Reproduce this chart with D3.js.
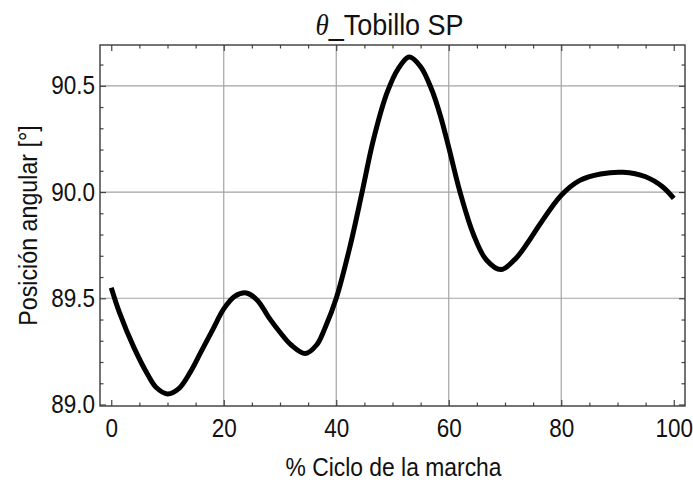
<!DOCTYPE html>
<html>
<head>
<meta charset="utf-8">
<script src="https://cdn.jsdelivr.net/npm/d3@7"></script>
<style>
  html, body { margin: 0; padding: 0; background: #fff; }
  svg { display: block; }
  text { font-family: "Liberation Sans", Arial, sans-serif; fill: #111; }
</style>
</head>
<body>
<svg id="chart" width="693" height="485"></svg>
<script>
// Ankle angle over the gait cycle (percent of cycle vs. degrees)
const cyclePct = [0, 1.5, 4, 6.5, 8, 10, 12, 14, 16, 18, 20, 22, 24, 26, 28, 30, 32, 34.5, 36.5, 38, 40,
  42.5, 44.6, 46.6, 49, 51, 53, 55, 57, 58.5, 60, 62, 64.4, 66.7, 69.3, 72, 74, 76, 80, 83.3, 87, 91, 95, 98, 100];
const angleDeg = [89.55, 89.43, 89.27, 89.14, 89.08, 89.05, 89.075, 89.15, 89.25, 89.35, 89.45, 89.51, 89.525, 89.49,
  89.41, 89.34, 89.28, 89.24, 89.28, 89.36, 89.50, 89.75, 90.00, 90.245, 90.465, 90.58, 90.635, 90.59, 90.48,
  90.36, 90.21, 90.00, 89.80, 89.68, 89.635, 89.69, 89.76, 89.84, 89.985, 90.055, 90.085, 90.093, 90.072, 90.025, 89.97];

const xMajor = [0, 20, 40, 60, 80, 100];
const yMajor = [89.0, 89.5, 90.0, 90.5];
const xGrid = [20, 40, 60, 80];
const yGrid = [89.5, 90.0, 90.5];
const xMinor = [5, 10, 15, 25, 30, 35, 45, 50, 55, 65, 70, 75, 85, 90, 95];
const yMinor = [89.1, 89.2, 89.3, 89.4, 89.6, 89.7, 89.8, 89.9, 90.1, 90.2, 90.3, 90.4, 90.6];

const titleSymbol = "θ";
const titleText = "_Tobillo SP";
const xTitle = "% Ciclo de la marcha";
const yTitle = "Posición angular [°]";

const plotL = 100, plotR = 685, plotT = 45, plotB = 406;
const svg = d3.select("#chart");
svg.append("rect").attr("width", 693).attr("height", 485).attr("fill", "#fff");

const x = d3.scaleLinear().domain([-2, 102]).range([plotL, plotR]);
const y = d3.scaleLinear().domain([88.993, 90.692]).range([plotB, plotT]);

// grid
const grid = svg.append("g").attr("stroke", "#a3a3a3").attr("stroke-width", 1.2);
grid.selectAll("line.gx").data(xGrid).join("line").attr("class", "gx")
  .attr("x1", d => x(d)).attr("x2", d => x(d)).attr("y1", plotT).attr("y2", plotB);
grid.selectAll("line.gy").data(yGrid).join("line").attr("class", "gy")
  .attr("y1", d => y(d)).attr("y2", d => y(d)).attr("x1", plotL).attr("x2", plotR);

// ticks on all four sides, pointing inward
const tickColor = "#444";
const fmtY = d3.format(".1f");
function styleAxis(g) {
  g.select(".domain").remove();
  g.selectAll(".tick line").attr("stroke", tickColor).attr("stroke-width", 1.2);
  g.selectAll("text").attr("font-size", 25).attr("fill", "#111")
    .attr("font-family", "'Liberation Sans', Arial, sans-serif")
    .attr("transform", "scale(0.9,1)");
}
svg.append("g").attr("transform", `translate(0,${plotB})`)
  .call(d3.axisBottom(x).tickValues(xMajor).tickSize(-6).tickPadding(13).tickFormat(d3.format("d")))
  .call(styleAxis);
svg.append("g").attr("transform", `translate(${plotL},0)`)
  .call(d3.axisLeft(y).tickValues(yMajor).tickSize(-6).tickPadding(5.5).tickFormat(fmtY))
  .call(styleAxis);
svg.append("g").attr("transform", `translate(0,${plotT})`)
  .call(d3.axisTop(x).tickValues(xMajor).tickSize(-6).tickFormat(""))
  .call(styleAxis);
svg.append("g").attr("transform", `translate(${plotR},0)`)
  .call(d3.axisRight(y).tickValues(yMajor).tickSize(-6).tickFormat(""))
  .call(styleAxis);
// minor ticks
svg.append("g").attr("transform", `translate(0,${plotB})`)
  .call(d3.axisBottom(x).tickValues(xMinor).tickSize(-3.5).tickFormat("")).call(styleAxis);
svg.append("g").attr("transform", `translate(0,${plotT})`)
  .call(d3.axisTop(x).tickValues(xMinor).tickSize(-3.5).tickFormat("")).call(styleAxis);
svg.append("g").attr("transform", `translate(${plotL},0)`)
  .call(d3.axisLeft(y).tickValues(yMinor).tickSize(-3.5).tickFormat("")).call(styleAxis);
svg.append("g").attr("transform", `translate(${plotR},0)`)
  .call(d3.axisRight(y).tickValues(yMinor).tickSize(-3.5).tickFormat("")).call(styleAxis);

// frame
svg.append("rect").attr("x", plotL).attr("y", plotT)
  .attr("width", plotR - plotL).attr("height", plotB - plotT)
  .attr("fill", "none").attr("stroke", "#3a3a3a").attr("stroke-width", 1.4);

// curve
const pts = cyclePct.map((c, i) => [c, angleDeg[i]]);
const line = d3.line().x(d => x(d[0])).y(d => y(d[1])).curve(d3.curveCatmullRom.alpha(0.5));
svg.append("path").datum(pts).attr("d", line)
  .attr("fill", "none").attr("stroke", "#000").attr("stroke-width", 5)
  .attr("stroke-linejoin", "round").attr("stroke-linecap", "butt");

// title
const title = svg.append("text")
  .attr("text-anchor", "middle").attr("font-size", 30)
  .attr("transform", `translate(${(plotL + plotR) / 2 - 3},35) scale(0.9,1)`);
title.append("tspan").attr("font-family", "'Liberation Serif', 'Times New Roman', serif")
  .attr("font-style", "italic").text(titleSymbol);
title.append("tspan").text(titleText);

// axis titles
svg.append("text").attr("text-anchor", "middle").attr("font-size", 26)
  .attr("transform", `translate(${(plotL + plotR) / 2 + 1},476) scale(0.88,1)`)
  .text(xTitle);
svg.append("text").attr("text-anchor", "middle").attr("font-size", 25)
  .attr("transform", `translate(37,${(plotT + plotB) / 2}) rotate(-90) scale(0.93,1)`)
  .text(yTitle);
</script>
</body>
</html>
